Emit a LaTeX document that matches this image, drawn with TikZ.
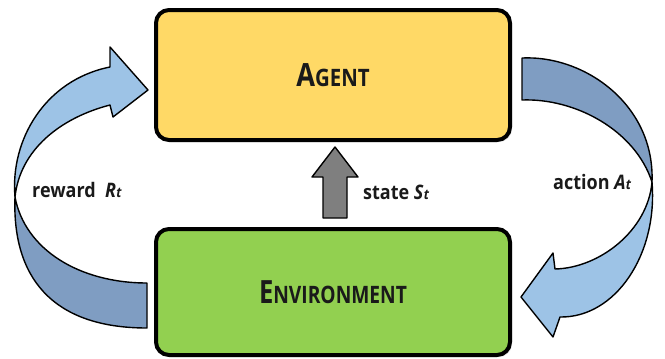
\documentclass[tikz,border=0pt]{standalone}
\usepackage{fontspec}
\setmainfont{Open Sans}
\newfontfamily\boxfont[FakeStretch=0.85]{Open Sans}
\newfontfamily\envfont[FakeStretch=0.8]{Open Sans}
\newfontfamily\lblfont[FakeStretch=0.9]{Open Sans}
\usetikzlibrary{shadows}

\definecolor{agentfill}{HTML}{FFD966}
\definecolor{envfill}{HTML}{92D050}
\definecolor{lightribbon}{HTML}{9DC3E6}
\definecolor{darkribbon}{HTML}{7F9DC2}
\definecolor{stategray}{HTML}{7F7F7F}
\definecolor{ink}{HTML}{1A1A1A}

\tikzset{
  box/.style={draw=black, line width=4pt, rounded corners=13pt,
    minimum width=354pt, inner sep=0pt, text=ink,
    drop shadow={shadow xshift=2pt, shadow yshift=-2pt, opacity=0.25}},
  ribbon/.style={draw=black, line width=1.4pt, line join=round},
  lbl/.style={font=\lblfont\bfseries\fontsize{20}{22}\selectfont, text=ink,
    inner sep=0pt, anchor=west},
}
\newcommand{\bigsc}[2]{{\fontsize{32}{32}\selectfont #1}{\fontsize{24}{24}\selectfont #2}}
\newcommand{\subt}[2]{{\itshape #1\kern0.3pt{\fontsize{14}{14}\selectfont #2}}}

\begin{document}
\begin{tikzpicture}[x=1pt, y=-1pt]
\useasboundingbox (0,0) rectangle (665,359);

% the two process boxes
\node[box, fill=agentfill, minimum height=130pt, font=\boxfont\bfseries] (agent) at (333,75)
  {\raisebox{-5pt}{\bigsc{A}{GENT}}};
\node[box, fill=envfill, minimum height=126pt, font=\envfont\bfseries] (env) at (333,292)
  {\raisebox{-5pt}{\bigsc{E}{NVIRONMENT}}};

% state arrow from environment up to agent
\filldraw[ribbon, fill=stategray]
  (323,218) -- (323,177) -- (312,177) -- (335,147) -- (358,177) -- (347,177) -- (347,218) -- cycle;
\node[lbl] (state) at (363,192) {state \subt{S}{t}};

% reward ribbon on the left: back face below, front face with head above
\filldraw[ribbon, fill=darkribbon]
  (15,197) .. controls (12,275) and (50,328) .. (147,328) -- (147,283)
  .. controls (80,283) and (25,250) .. cycle;
\filldraw[ribbon, fill=lightribbon]
  (110,67) -- (110,47) -- (148,90) -- (113,117) -- (110,105)
  .. controls (60,118) and (20,150) .. (15,197)
  .. controls (10,140) and (45,80) .. cycle;
\node[lbl] (reward) at (32,190) {reward\ \ \subt{R}{t}};

% action ribbon on the right: back face above, front face with head below
\filldraw[ribbon, fill=darkribbon]
  (522,58) .. controls (585,55) and (655,105) .. (652,182)
  .. controls (635,130) and (575,98) .. (522,100) -- cycle;
\filldraw[ribbon, fill=lightribbon]
  (652,182) .. controls (658,255) and (615,318) .. (560,317)
  -- (553,337) -- (521,297) -- (553,253) -- (555,269)
  .. controls (600,268) and (648,230) .. cycle;
\node[lbl] (action) at (553,182) {action \subt{A}{t}};
\end{tikzpicture}
\end{document}
